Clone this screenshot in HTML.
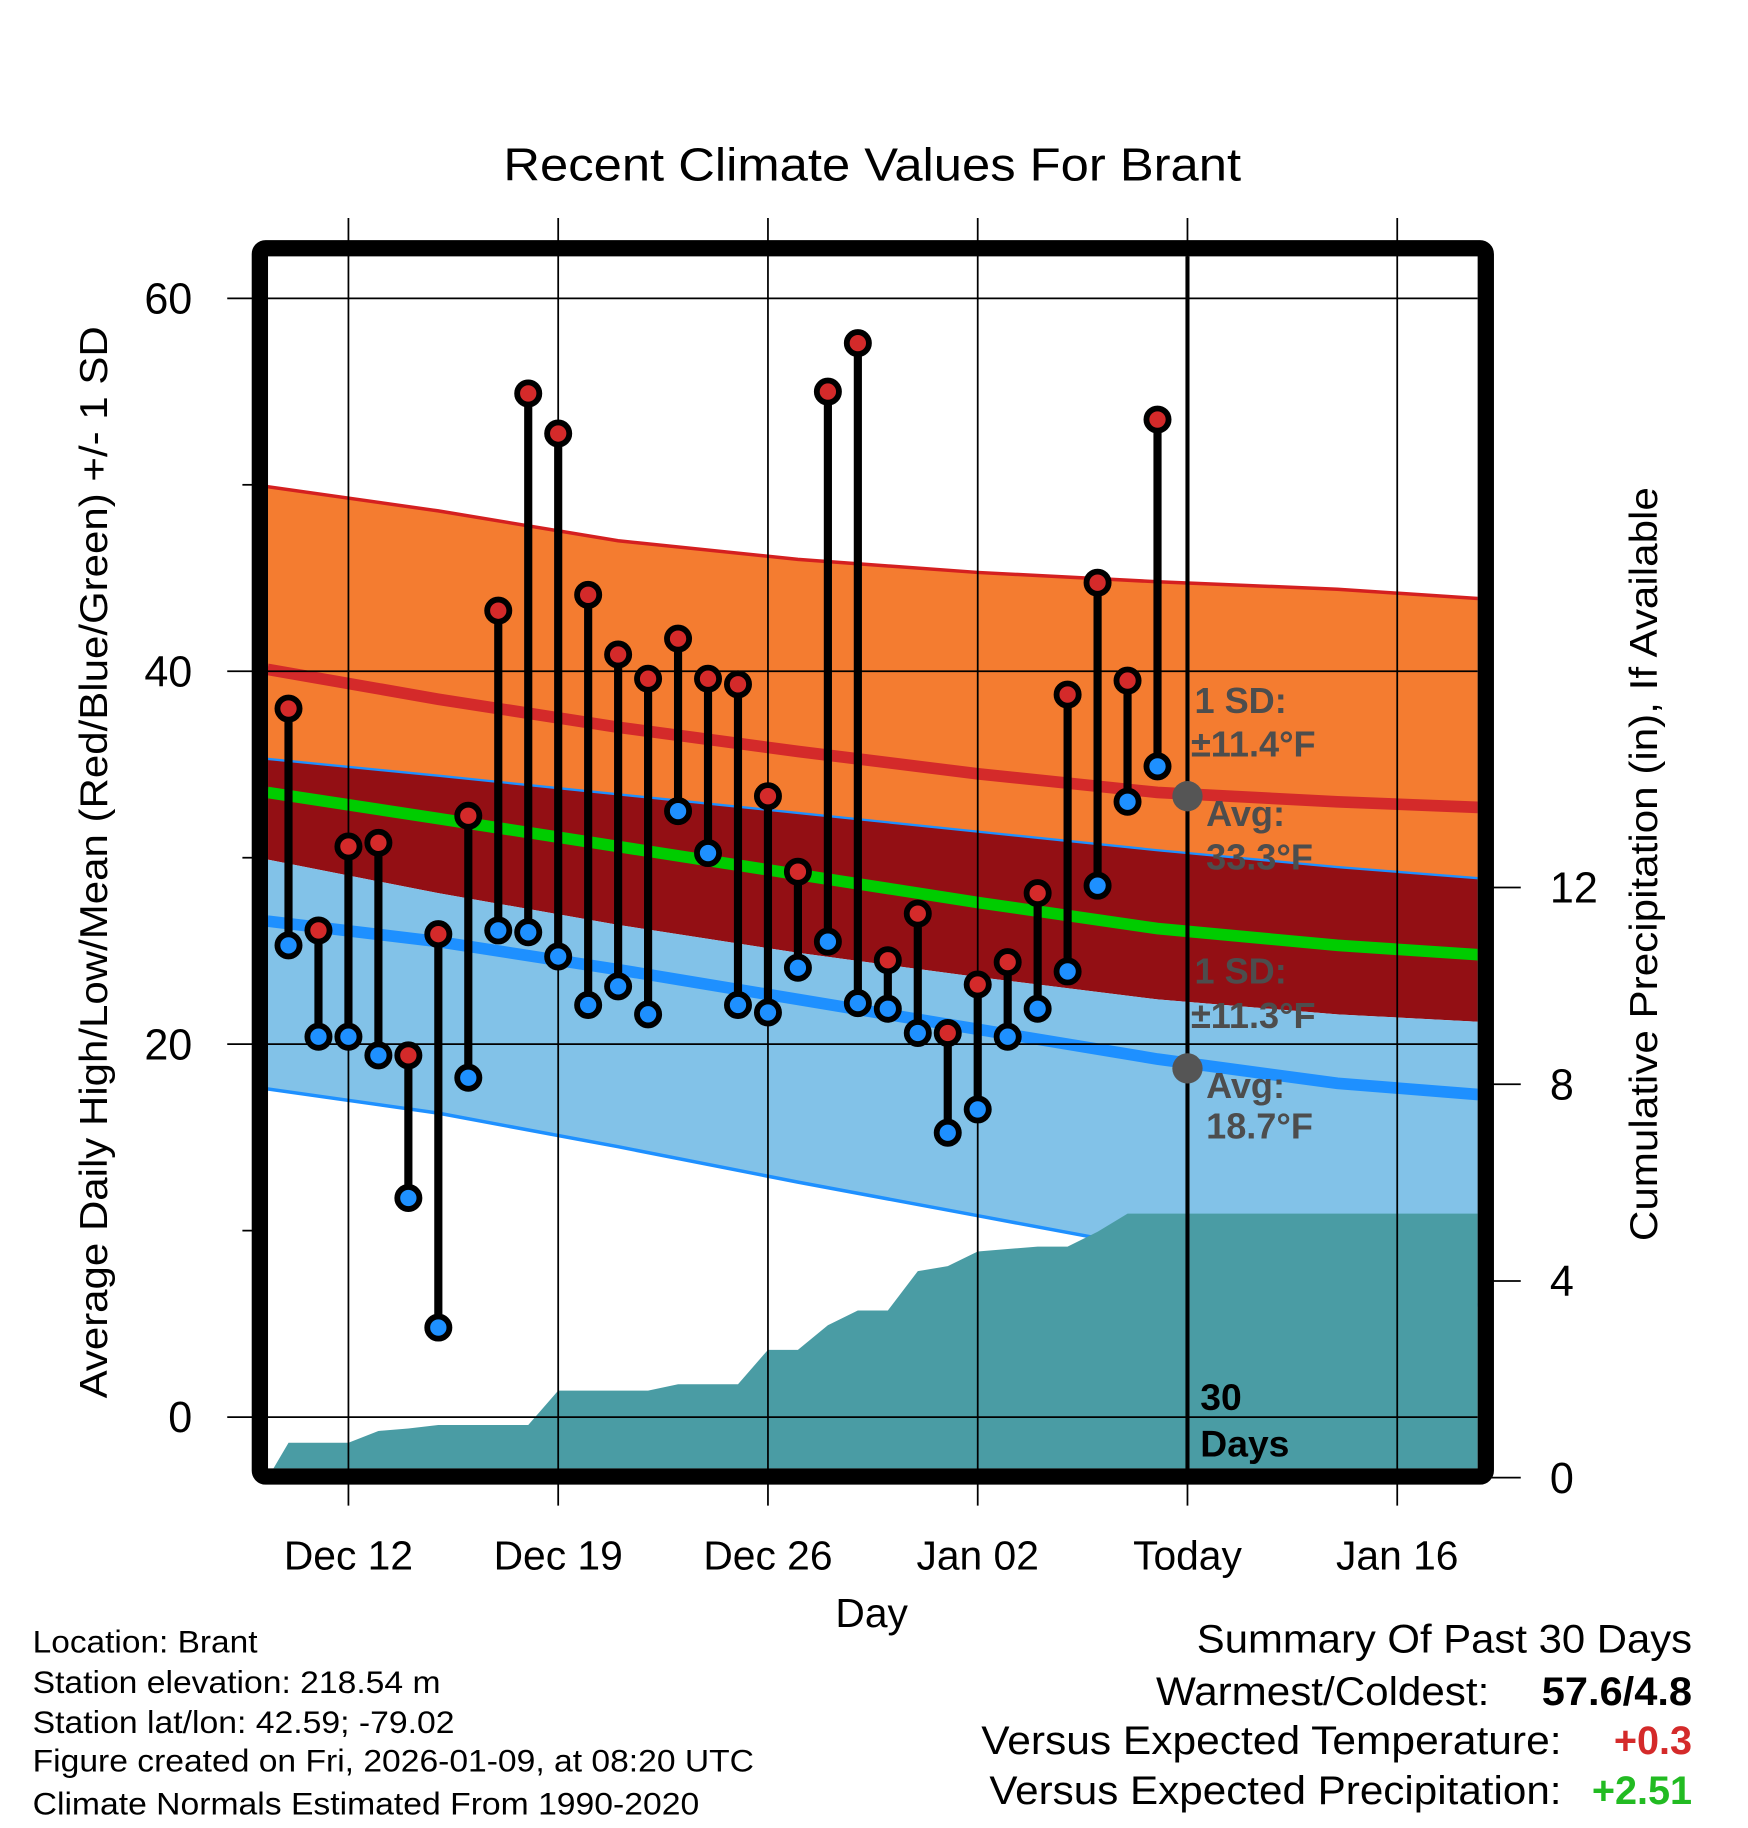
<!DOCTYPE html>
<html><head><meta charset="utf-8"><style>
html,body{margin:0;padding:0;background:#fff;}
svg{display:block;font-family:"Liberation Sans",Arial,sans-serif;}
</style></head><body>
<svg id="chart" width="1748" height="1828" viewBox="0 0 1500 1568.6" xmlns="http://www.w3.org/2000/svg">
<defs><clipPath id="plotclip"><rect x="230" y="220" width="1038" height="1040"/></clipPath></defs>
<rect width="1500" height="1569" fill="#fff"/>
<text x="432" y="155" font-size="40" textLength="633" lengthAdjust="spacingAndGlyphs">Recent Climate Values For Brant</text>
<g id="plot" clip-path="url(#plotclip)"></g>
<g id="over"></g>
<text transform="translate(92,1200) rotate(-90)" font-size="33" textLength="920" lengthAdjust="spacingAndGlyphs">Average Daily High/Low/Mean (Red/Blue/Green) +/- 1 SD</text>
<text transform="translate(1422,1065) rotate(-90)" font-size="33" textLength="647" lengthAdjust="spacingAndGlyphs">Cumulative Precipitation (in), If Available</text>
<text x="748" y="1396" font-size="35" text-anchor="middle">Day</text>
<g font-size="27">
<text x="28" y="1418" textLength="193" lengthAdjust="spacingAndGlyphs">Location: Brant</text>
<text x="28" y="1453" textLength="350" lengthAdjust="spacingAndGlyphs">Station elevation: 218.54 m</text>
<text x="28" y="1487" textLength="362" lengthAdjust="spacingAndGlyphs">Station lat/lon: 42.59; -79.02</text>
<text x="28" y="1520" textLength="619" lengthAdjust="spacingAndGlyphs">Figure created on Fri, 2026-01-09, at 08:20 UTC</text>
<text x="28" y="1557" textLength="572" lengthAdjust="spacingAndGlyphs">Climate Normals Estimated From 1990-2020</text>
</g>
<g font-size="34">
<text x="1027" y="1418" textLength="425" lengthAdjust="spacingAndGlyphs">Summary Of Past 30 Days</text>
<text x="992" y="1463" textLength="286" lengthAdjust="spacingAndGlyphs">Warmest/Coldest:</text>
<text x="1323" y="1463" font-weight="bold" textLength="129" lengthAdjust="spacingAndGlyphs">57.6/4.8</text>
<text x="842" y="1505" textLength="498" lengthAdjust="spacingAndGlyphs">Versus Expected Temperature:</text>
<text x="1452" y="1505" text-anchor="end" font-weight="bold" fill="#d42a2a">+0.3</text>
<text x="849" y="1548" textLength="491" lengthAdjust="spacingAndGlyphs">Versus Expected Precipitation:</text>
<text x="1452" y="1548" text-anchor="end" font-weight="bold" fill="#22bb22">+2.51</text>
</g>
</svg>
<script>
// ---- data ----
const normDays = [-2.7, 3, 9, 15, 21, 27, 33, 37.7];
const normHighTop = [49.9, 48.6, 47.0, 46.0, 45.3, 44.8, 44.4, 43.9];
const normHighAvg = [40.1, 38.5, 37.0, 35.7, 34.5, 33.5, 33.0, 32.7];
const normHighBot = [35.3, 34.4, 33.4, 32.4, 31.4, 30.4, 29.5, 28.9];
const normMean = [33.5, 32.1, 30.6, 29.1, 27.6, 26.2, 25.3, 24.8];
const normLowTop = [29.9, 28.1, 26.4, 24.9, 23.6, 22.4, 21.6, 21.2];
const normLowAvg = [26.6, 25.5, 24.0, 22.4, 20.8, 19.2, 17.9, 17.3];
const normLowBot = [17.6, 16.3, 14.5, 12.6, 10.8, 9.0, 7.3, 6.0];
const highs = [38.0,26.1,30.6,30.8,19.4,25.9,32.25,43.25,54.9,52.75,44.1,40.9,39.6,41.75,39.6,39.3,33.3,29.25,55.0,57.6,24.5,27.0,20.6,23.2,24.4,28.1,38.75,44.75,39.5,53.5];
const lows = [25.3,20.4,20.4,19.4,11.75,4.8,18.2,26.1,26.0,24.7,22.1,23.1,21.6,32.5,30.25,22.1,21.7,24.1,25.5,22.2,21.9,20.6,15.25,16.5,20.4,21.9,23.9,28.5,33.0,34.9];
const precipCum = [0.71,0.71,0.71,0.95,1.0,1.07,1.07,1.07,1.07,1.77,1.77,1.77,1.77,1.9,1.9,1.9,2.6,2.6,3.1,3.4,3.4,4.2,4.3,4.6,4.65,4.7,4.7,5.0,5.37,5.37];
const xTickDays = [0, 7, 14, 21, 28, 35];
const xTickLabels = ["Dec 12","Dec 19","Dec 26","Jan 02","Today","Jan 16"];
const yTicks = [0, 20, 40, 60];
const yMinor = [10, 30, 50];
const pTicks = [0, 4, 8, 12];
const firstDay = -2; // Dec 10 relative to Dec 12
const todayDay = 28;
const todayHighAvg = 33.3, todayLowAvg = 18.7;

// ---- scales ----
const X = d => 299 + d * 180 / 7;
const Y = t => 1216 - t * 16;
const P = p => 1268 - p * 42.2;
const NS = "http://www.w3.org/2000/svg";
function mk(tag, attrs, parent){const e=document.createElementNS(NS,tag);for(const k in attrs)e.setAttribute(k,attrs[k]);parent.appendChild(e);return e;}
const svg = document.getElementById('chart');
const plot = document.getElementById('plot');
const over = document.getElementById('over');

function line(arr){return arr.map((v,i)=>(i?'L':'M')+X(normDays[i]).toFixed(1)+','+Y(v).toFixed(1)).join(' ');}
function band(top,bot){
  let d=line(top);
  for(let i=bot.length-1;i>=0;i--) d+=' L'+X(normDays[i]).toFixed(1)+','+Y(bot[i]).toFixed(1);
  return d+' Z';
}
let e;
e=mk('path',{d:band(normHighTop,normHighBot),fill:'#f47c30'},plot);


e=mk('path',{d:band(normHighBot,normLowTop),fill:'#930f14'},plot);


e=mk('path',{d:band(normLowTop,normLowBot),fill:'#82c2e8'},plot);


e=mk('path',{d:line(normHighTop),fill:'none',stroke:'#d42020','stroke-width':3},plot);


e=mk('path',{d:line(normHighBot),fill:'none',stroke:'#1e90ff','stroke-width':2},plot);


e=mk('path',{d:line(normLowBot),fill:'none',stroke:'#1e90ff','stroke-width':3},plot);


e=mk('path',{d:line(normHighAvg),fill:'none',stroke:'#d42a2a','stroke-width':10},plot);


e=mk('path',{d:line(normMean),fill:'none',stroke:'#00cc00','stroke-width':10},plot);


e=mk('path',{d:line(normLowAvg),fill:'none',stroke:'#1e90ff','stroke-width':10},plot);



// precip area
let pd='M230,'+P(0)+' ';
precipCum.forEach((v,i)=>{pd+='L'+X(firstDay+i).toFixed(1)+','+P(v).toFixed(1)+' ';});
pd+='L1268,'+P(precipCum[precipCum.length-1]).toFixed(1)+' L1268,'+P(0)+' Z';
e=mk('path',{d:pd,fill:'#4a9ca4'},plot);



// grid
xTickDays.forEach(d=>{
  e=mk('line',{x1:X(d),x2:X(d),y1:187,y2:1292,stroke:'#000','stroke-width':1.5},over);
  
  
});
yTicks.forEach(t=>{
  e=mk('line',{x1:195,x2:1268,y1:Y(t),y2:Y(t),stroke:'#000','stroke-width':1.5},over);
  
  
  e=mk('text',{x:165,y:Y(t)+13,'font-size':37,'text-anchor':'end'},over);
  e.textContent=t;
  
  
});
yMinor.forEach(t=>{
  e=mk('line',{x1:208,x2:220,y1:Y(t),y2:Y(t),stroke:'#000','stroke-width':1.5},over);
  
  
});
pTicks.forEach(p=>{
  e=mk('line',{x1:1280,x2:1305,y1:P(p),y2:P(p),stroke:'#000','stroke-width':1.5},over);
  
  
  e=mk('text',{x:1330,y:P(p)+13,'font-size':37},over);
  e.textContent=p;
  
  
});
xTickLabels.forEach((l,i)=>{
  e=mk('text',{x:X(xTickDays[i]),y:1347,'font-size':35,'text-anchor':'middle'},over);
  e.textContent=l;
  
  
});

// today line
e=mk('line',{x1:X(todayDay),x2:X(todayDay),y1:220,y2:1262,stroke:'#000','stroke-width':3.5},over);



// stems and markers
highs.forEach((h,i)=>{
  const x=X(firstDay+i);
  e=mk('line',{x1:x,x2:x,y1:Y(h),y2:Y(lows[i]),stroke:'#000','stroke-width':7},over);
  
  
});
highs.forEach((h,i)=>{
  const x=X(firstDay+i);
  e=mk('circle',{cx:x,cy:Y(h),r:9.5,fill:'#d42a2a',stroke:'#000','stroke-width':5},over);
  
  
  e=mk('circle',{cx:x,cy:Y(lows[i]),r:9.5,fill:'#1e90ff',stroke:'#000','stroke-width':5},over);
  
  
});

// today normals
e=mk('circle',{cx:X(todayDay),cy:Y(todayHighAvg),r:13,fill:'#555'},over);


e=mk('circle',{cx:X(todayDay),cy:Y(todayLowAvg),r:13,fill:'#555'},over);


const labels=[["1 SD:",1025,612],["\u00b111.4\u00b0F",1022,649],["Avg:",1035,709],["33.3\u00b0F",1035,746],["1 SD:",1025,844],["\u00b111.3\u00b0F",1022,882],["Avg:",1035,942],["18.7\u00b0F",1035,977]];
labels.forEach(l=>{
  e=mk('text',{x:l[1],y:l[2],'font-size':31,'font-weight':'bold',fill:'#4d4d4d'},over);
  e.textContent=l[0];
  
  
});
e=mk('text',{x:1030,y:1210,'font-size':32,'font-weight':'bold'},over);
e.textContent='30';


e=mk('text',{x:1030,y:1250,'font-size':32,'font-weight':'bold'},over);
e.textContent='Days';



// frame
e=mk('rect',{x:223,y:213,width:1052,height:1054,rx:5,fill:'none',stroke:'#000','stroke-width':14},over);


</script>
</body></html>
